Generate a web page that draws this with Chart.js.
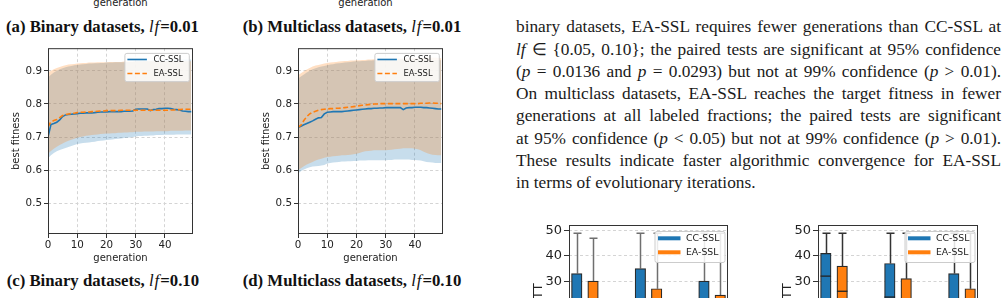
<!DOCTYPE html>
<html>
<head>
<meta charset="utf-8">
<script src="https://cdn.jsdelivr.net/npm/chart.js@4.4.1/dist/chart.umd.min.js"></script>
<style>
html, body { margin: 0; padding: 0; background: #fff; }
body { width: 1005px; height: 298px; overflow: hidden; position: relative; }
canvas { position: absolute; }
.cap { position: absolute; font-family: "Liberation Serif", serif; font-weight: bold; white-space: nowrap; color: #111; }
.cap i { font-weight: normal; letter-spacing: 1px; }
.axlab { position: absolute; font-family: "DejaVu Sans", sans-serif; font-size: 10px; line-height: 10px; color: #222; transform: translateX(-50%); white-space: nowrap; }
.para { position: absolute; left: 516px; top: 16.3px; width: 485px; font-family: "Liberation Serif", serif; font-size: 17.3px; line-height: 22.28px; color: #1a1a1a; }
.para div { white-space: nowrap; }
.para span { display: inline-block; }
</style>
</head>
<body>

<div class="axlab" style="left:120.5px; top:-1.8px">generation</div>
<div class="axlab" style="left:365.5px; top:-1.8px">generation</div>

<div class="cap" style="left:6px" data-w="193" data-base="33.3">(a) Binary datasets, <i>lf</i>=0.01</div>
<div class="cap" style="left:242.7px" data-w="218.3" data-base="33.3">(b) Multiclass datasets, <i>lf</i>=0.01</div>
<div class="cap" style="left:6.7px" data-w="192.3" data-base="287.3">(c) Binary datasets, <i>lf</i>=0.10</div>
<div class="cap" style="left:242.7px" data-w="218.3" data-base="287.3">(d) Multiclass datasets, <i>lf</i>=0.10</div>

<canvas id="chartA" width="200" height="228" style="left:0px; top:40px"></canvas>
<canvas id="chartB" width="200" height="228" style="left:250px; top:40px"></canvas>

<div class="para">
  <div><span>binary datasets, EA-SSL requires fewer generations than CC-SSL at</span></div>
  <div><span><i>lf</i> ∈ {0.05, 0.10}; the paired tests are significant at 95% confidence</span></div>
  <div><span>(<i>p</i> = 0.0136 and <i>p</i> = 0.0293) but not at 99% confidence (<i>p</i> &gt; 0.01).</span></div>
  <div><span>On multiclass datasets, EA-SSL reaches the target fitness in fewer</span></div>
  <div><span>generations at all labeled fractions; the paired tests are significant</span></div>
  <div><span>at 95% confidence (<i>p</i> &lt; 0.05) but not at 99% confidence (<i>p</i> &gt; 0.01).</span></div>
  <div><span>These results indicate faster algorithmic convergence for EA-SSL</span></div>
  <div class="last"><span>in terms of evolutionary iterations.</span></div>
</div>

<canvas id="boxLeft" width="205" height="182" style="left:530px; top:215px"></canvas>
<canvas id="boxRight" width="206" height="182" style="left:779px; top:215px"></canvas>

<script>
// ---- data: best fitness per generation ----
const generations = [0,1,2,3,4,5,6,7,8,9,10,11,12,13,14,15,16,17,18,19,20,21,22,23,24,25,26,27,28,29,30,31,32,33,34,35,36,37,38,39,40,41,42,43,44,45,46,47,48,49];
const generationTicks = [0, 10, 20, 30, 40];
const fitnessTicks = [0.5, 0.6, 0.7, 0.8, 0.9];

// (a) binary, lf = 0.01
const ccMeanBinary = [0.700,0.738,0.741,0.745,0.752,0.762,0.767,0.768,0.769,0.770,0.771,0.772,0.772,0.773,0.773,0.773,0.774,0.775,0.776,0.776,0.776,0.777,0.777,0.777,0.777,0.777,0.778,0.778,0.778,0.779,0.784,0.785,0.785,0.785,0.785,0.780,0.783,0.784,0.786,0.786,0.787,0.787,0.786,0.784,0.783,0.782,0.779,0.778,0.777,0.777];
const ccLowBinary  = [0.636,0.645,0.652,0.657,0.661,0.664,0.667,0.670,0.673,0.676,0.679,0.681,0.682,0.683,0.684,0.685,0.686,0.688,0.689,0.690,0.691,0.692,0.693,0.694,0.695,0.696,0.697,0.698,0.699,0.700,0.702,0.703,0.703,0.704,0.704,0.705,0.705,0.706,0.706,0.706,0.707,0.707,0.707,0.707,0.708,0.708,0.708,0.708,0.708,0.708];
const ccHighBinary = [0.880,0.888,0.895,0.900,0.905,0.908,0.911,0.913,0.915,0.917,0.918,0.919,0.920,0.921,0.922,0.922,0.923,0.923,0.924,0.924,0.925,0.925,0.925,0.926,0.926,0.926,0.926,0.927,0.927,0.927,0.930,0.931,0.931,0.931,0.931,0.930,0.931,0.932,0.933,0.933,0.934,0.934,0.934,0.934,0.934,0.934,0.934,0.934,0.934,0.934];
const eaMeanBinary = [0.731,0.746,0.750,0.753,0.759,0.765,0.768,0.770,0.771,0.772,0.774,0.775,0.775,0.776,0.776,0.777,0.777,0.778,0.779,0.779,0.780,0.780,0.780,0.780,0.780,0.781,0.781,0.781,0.781,0.781,0.781,0.781,0.781,0.781,0.781,0.781,0.781,0.781,0.781,0.781,0.781,0.781,0.782,0.782,0.783,0.783,0.784,0.784,0.784,0.784];
const eaLowBinary  = [0.650,0.658,0.665,0.671,0.676,0.681,0.685,0.689,0.692,0.695,0.698,0.700,0.702,0.704,0.705,0.706,0.707,0.708,0.709,0.710,0.711,0.711,0.712,0.712,0.713,0.713,0.714,0.714,0.715,0.715,0.716,0.716,0.716,0.717,0.717,0.717,0.717,0.718,0.718,0.718,0.718,0.718,0.719,0.719,0.719,0.719,0.719,0.720,0.720,0.720];
const eaHighBinary = [0.895,0.900,0.905,0.909,0.912,0.915,0.917,0.919,0.920,0.921,0.922,0.923,0.924,0.924,0.925,0.925,0.925,0.926,0.926,0.926,0.926,0.927,0.927,0.927,0.927,0.927,0.928,0.928,0.928,0.928,0.928,0.928,0.928,0.929,0.929,0.929,0.929,0.929,0.929,0.929,0.929,0.929,0.929,0.929,0.929,0.929,0.929,0.929,0.929,0.929];

// (b) multiclass, lf = 0.01
const ccMeanMulti = [0.729,0.733,0.737,0.741,0.745,0.749,0.754,0.758,0.759,0.770,0.775,0.776,0.777,0.777,0.777,0.777,0.778,0.779,0.780,0.781,0.782,0.783,0.784,0.785,0.786,0.786,0.787,0.787,0.788,0.788,0.789,0.789,0.789,0.789,0.789,0.789,0.783,0.788,0.789,0.789,0.790,0.790,0.790,0.789,0.789,0.788,0.787,0.786,0.785,0.785];
const ccLowMulti  = [0.590,0.597,0.602,0.606,0.609,0.611,0.612,0.613,0.614,0.616,0.620,0.622,0.623,0.624,0.625,0.626,0.626,0.627,0.627,0.628,0.628,0.629,0.629,0.629,0.630,0.630,0.630,0.630,0.630,0.630,0.630,0.631,0.631,0.632,0.632,0.632,0.632,0.632,0.632,0.631,0.631,0.630,0.629,0.627,0.625,0.624,0.623,0.622,0.622,0.622];
const ccHighMulti = [0.877,0.883,0.889,0.895,0.900,0.905,0.908,0.911,0.913,0.915,0.917,0.919,0.920,0.922,0.923,0.924,0.925,0.926,0.927,0.928,0.929,0.929,0.930,0.930,0.931,0.931,0.932,0.932,0.933,0.933,0.934,0.934,0.934,0.935,0.935,0.935,0.935,0.935,0.935,0.935,0.935,0.935,0.935,0.934,0.934,0.934,0.933,0.933,0.933,0.932];
const eaMeanMulti = [0.729,0.736,0.750,0.762,0.770,0.775,0.778,0.781,0.783,0.784,0.785,0.786,0.786,0.787,0.787,0.788,0.789,0.790,0.791,0.792,0.793,0.795,0.796,0.797,0.798,0.799,0.800,0.800,0.801,0.801,0.801,0.801,0.801,0.801,0.801,0.801,0.801,0.801,0.801,0.801,0.801,0.801,0.802,0.802,0.802,0.803,0.803,0.802,0.802,0.801];
const eaLowMulti  = [0.600,0.606,0.612,0.617,0.621,0.625,0.629,0.632,0.635,0.638,0.640,0.641,0.642,0.643,0.644,0.645,0.645,0.646,0.647,0.648,0.650,0.652,0.655,0.657,0.658,0.659,0.660,0.660,0.660,0.660,0.660,0.661,0.662,0.663,0.664,0.665,0.666,0.666,0.666,0.666,0.665,0.663,0.660,0.656,0.652,0.649,0.647,0.646,0.645,0.645];
const eaHighMulti = [0.887,0.893,0.899,0.904,0.909,0.913,0.916,0.918,0.920,0.922,0.924,0.925,0.926,0.927,0.928,0.929,0.930,0.930,0.931,0.931,0.932,0.932,0.933,0.933,0.934,0.934,0.935,0.935,0.935,0.936,0.936,0.936,0.936,0.937,0.937,0.937,0.937,0.937,0.937,0.938,0.938,0.938,0.939,0.939,0.940,0.940,0.940,0.940,0.939,0.938];

// ---- data: generations-to-target box plots (only the top is visible) ----
const fractions = ['0.01', '0.05', '0.10'];
const gttTicks = [0, 10, 20, 30, 40, 50];

const ccQ1Left  = [10, 12, 8];
const ccMedLeft = [20, 22, 17];
const ccQ3Left  = [33, 35, 30];
const ccMinLeft = [0, 0, 0];
const ccMaxLeft = [49, 49, 49];
const eaQ1Left  = [7, 6, 5];
const eaMedLeft = [15, 13, 11];
const eaQ3Left  = [30, 27, 24.5];
const eaMinLeft = [0, 0, 0];
const eaMaxLeft = [47, 49, 49];

const ccQ1Right  = [20, 12, 10];
const ccMedRight = [32, 23.7, 19];
const ccQ3Right  = [41, 37, 33];
const ccMinRight = [0, 0, 0];
const ccMaxRight = [49, 49, 49];
const eaQ1Right  = [12, 8, 6];
const eaMedRight = [26, 17, 14];
const eaQ3Right  = [36, 31, 27];
const eaMinRight = [0, 0, 0];
const eaMaxRight = [49, 49, 49];

const BLUE = '#1f77b4';
const ORANGE = '#ff7f0e';
const GRID = '#d4d4d4';
const BOX_SHIFT = 0.128;

Chart.defaults.font.family = 'DejaVu Sans';
Chart.defaults.color = '#222';

// matplotlib-like full frame around the plot area
const frame = {
  id: 'frame',
  afterDatasetsDraw(chart) {
    const {ctx, chartArea: a} = chart;
    ctx.save();
    ctx.strokeStyle = '#333';
    ctx.lineWidth = 1;
    ctx.strokeRect(a.left + 0.5, a.top + 0.5, a.right - a.left - 1, a.bottom - a.top - 1);
    ctx.restore();
  }
};

// legend box in the upper right corner of the plot area
const mplLegend = {
  id: 'mplLegend',
  afterDraw(chart, args, o) {
    const {ctx, chartArea: a} = chart;
    const x = a.right - o.right - o.w;
    const y = a.top + o.top;
    ctx.save();
    ctx.fillStyle = 'rgba(255,255,255,0.85)';
    ctx.strokeStyle = '#cccccc';
    ctx.lineWidth = 1;
    ctx.beginPath();
    ctx.roundRect(x + 0.5, y + 0.5, o.w, o.h, 2);
    ctx.fill();
    ctx.stroke();
    const items = chart.data.datasets.filter(d => d.label);
    items.forEach((d, i) => {
      const yy = y + o.rows[i];
      ctx.strokeStyle = d.swatch;
      ctx.lineWidth = o.lineWidth;
      ctx.setLineDash(d.borderDash && o.lineWidth < 3 ? d.borderDash : []);
      ctx.beginPath();
      ctx.moveTo(x + o.x0, yy);
      ctx.lineTo(x + o.x1, yy);
      ctx.stroke();
      ctx.setLineDash([]);
      ctx.fillStyle = '#222';
      ctx.font = o.fontSize + 'px "DejaVu Sans"';
      ctx.textBaseline = 'middle';
      ctx.fillText(d.label, x + o.tx, yy + 0.5);
    });
    ctx.restore();
  }
};

// whiskers, caps and medians for the box plots
const whiskers = {
  id: 'whiskers',
  beforeDatasetsDraw(chart, args, o) {
    const {ctx, chartArea: a} = chart;
    const y = chart.scales.y;
    ctx.save();
    ctx.beginPath();
    ctx.rect(a.left, a.top, a.right - a.left, a.bottom - a.top);
    ctx.clip();
    ctx.strokeStyle = o.color;
    ctx.lineWidth = o.width;
    chart.data.datasets.forEach((d, di) => {
      chart.getDatasetMeta(di).data.forEach((bar, i) => {
        const x = Math.round(bar.x) + 0.5;
        const pairs = [[d.data[i].y[1], d.maxes[i]], [d.data[i].y[0], d.mins[i]]];
        pairs.forEach(([from, to]) => {
          const p1 = y.getPixelForValue(from), p2 = y.getPixelForValue(to);
          ctx.beginPath();
          ctx.moveTo(x, p1); ctx.lineTo(x, p2);
          ctx.moveTo(x - o.cap, p2); ctx.lineTo(x + o.cap, p2);
          ctx.stroke();
        });
      });
    });
    ctx.restore();
  },
  afterDatasetsDraw(chart, args, o) {
    const {ctx} = chart;
    const y = chart.scales.y;
    ctx.save();
    ctx.strokeStyle = '#222';
    ctx.lineWidth = 1.3;
    chart.data.datasets.forEach((d, di) => {
      chart.getDatasetMeta(di).data.forEach((bar, i) => {
        const p = y.getPixelForValue(d.medians[i]);
        ctx.beginPath();
        ctx.moveTo(bar.x - bar.width / 2, p);
        ctx.lineTo(bar.x + bar.width / 2, p);
        ctx.stroke();
      });
    });
    ctx.restore();
  }
};

function fitnessChart(id, ccMean, ccLow, ccHigh, eaMean, eaLow, eaHigh) {
  const band = (data, fill, color, order) => ({
    data, fill, backgroundColor: color, borderWidth: 0, pointRadius: 0, pointHoverRadius: 0, order
  });
  return new Chart(document.getElementById(id), {
    type: 'line',
    data: {
      labels: generations,
      datasets: [
        band(ccLow, false, 'transparent', 6),
        band(ccHigh, '-1', 'rgba(31,119,180,0.25)', 5),
        band(eaLow, false, 'transparent', 4),
        band(eaHigh, '-1', 'rgba(255,127,14,0.25)', 3),
        { label: 'CC-SSL', data: ccMean, swatch: BLUE, borderColor: BLUE, borderWidth: 1.6, pointRadius: 0, fill: false, tension: 0, order: 2 },
        { label: 'EA-SSL', data: eaMean, swatch: ORANGE, borderColor: ORANGE, borderWidth: 1.6, borderDash: [5, 2.5], pointRadius: 0, fill: false, tension: 0, order: 1 }
      ]
    },
    options: {
      responsive: false,
      animation: false,
      devicePixelRatio: 1,
      layout: { padding: { top: 8, right: 7, left: 0, bottom: 0 } },
      plugins: {
        legend: { display: false },
        tooltip: { enabled: false },
        mplLegend: { right: 4.2, top: 4.7, w: 64.4, h: 28.3, x0: 3, x1: 22.5, tx: 29, rows: [6.6, 20.6], fontSize: 8.4, lineWidth: 1.6 }
      },
      scales: {
        x: {
          type: 'linear', min: 0, max: 49.6,
          afterFit: s => { s.height = 34; },
          afterBuildTicks: s => { s.ticks = generationTicks.map(v => ({ value: v })); },
          ticks: { font: { size: 10.3 }, padding: 1, maxRotation: 0, color: '#222' },
          grid: { color: GRID, borderDash: [3, 2.5], tickColor: '#333', tickLength: 4, tickBorderDash: [] },
          border: { display: false, dash: [3, 2.5] },
          title: { display: true, text: 'generation', font: { size: 10 }, color: '#222', padding: { top: 0, bottom: 4 } }
        },
        y: {
          min: 0.4074, max: 0.9685,
          afterFit: s => { s.width = 48; },
          afterBuildTicks: s => { s.ticks = fitnessTicks.map(v => ({ value: v })); },
          ticks: { font: { size: 10.3 }, padding: 2, color: '#222', callback: v => v.toFixed(1) },
          grid: { color: GRID, borderDash: [3, 2.5], tickColor: '#333', tickLength: 4, tickBorderDash: [] },
          border: { display: false, dash: [3, 2.5] },
          title: { display: true, text: 'best fitness', font: { size: 10 }, color: '#222', padding: { top: 10.5, bottom: 0 } }
        }
      }
    },
    plugins: [frame, mplLegend]
  });
}

function boxChart(id, cc, ea, whiskerColor) {
  const boxes = (label, s, color, shift) => ({
    label, swatch: color,
    data: s.q1.map((q, i) => ({ x: i + 1 + shift, y: [q, s.q3[i]] })),
    mins: s.min, maxes: s.max, medians: s.med,
    backgroundColor: color, borderColor: '#2a2a2a', borderWidth: 1.2, borderSkipped: false,
    barThickness: 10.5, grouped: false
  });
  return new Chart(document.getElementById(id), {
    type: 'bar',
    data: {
      datasets: [
        boxes('CC-SSL', cc, BLUE, -BOX_SHIFT),
        boxes('EA-SSL', ea, ORANGE, BOX_SHIFT)
      ]
    },
    options: {
      responsive: false,
      animation: false,
      devicePixelRatio: 1,
      layout: { padding: { top: 10, right: 7, left: 0, bottom: 0 } },
      plugins: {
        legend: { display: false },
        tooltip: { enabled: false },
        whiskers: { color: whiskerColor, width: 1.5, cap: 4 },
        mplLegend: { right: 3.5, top: 6, w: 70, h: 31, x0: 3.5, x1: 26, tx: 31.5, rows: [7.3, 21.3], fontSize: 9.3, lineWidth: 4 }
      },
      scales: {
        x: {
          type: 'linear', min: 0.75, max: 3.25, offset: false,
          afterFit: s => { s.height = 30; },
          afterBuildTicks: s => { s.ticks = fractions.map((f, i) => ({ value: i + 1 })); },
          ticks: { font: { size: 13 }, callback: v => fractions[v - 1] },
          grid: { display: false, offset: false },
          border: { display: false }
        },
        y: {
          min: -4, max: 52.25,
          afterFit: s => { s.width = 39; },
          afterBuildTicks: s => { s.ticks = gttTicks.map(v => ({ value: v })); },
          ticks: { font: { size: 13 }, padding: 2, color: '#222' },
          grid: { color: GRID, borderDash: [3, 2.5], tickColor: '#333', tickLength: 5, tickBorderDash: [] },
          border: { display: false, dash: [3, 2.5] },
          title: { display: true, text: 'GTT', font: { size: 13 }, color: '#222', padding: { top: 1, bottom: 0 } }
        }
      }
    },
    plugins: [whiskers, frame, mplLegend]
  });
}

fitnessChart('chartA', ccMeanBinary, ccLowBinary, ccHighBinary, eaMeanBinary, eaLowBinary, eaHighBinary);
fitnessChart('chartB', ccMeanMulti, ccLowMulti, ccHighMulti, eaMeanMulti, eaLowMulti, eaHighMulti);

boxChart('boxLeft',
  { q1: ccQ1Left, med: ccMedLeft, q3: ccQ3Left, min: ccMinLeft, max: ccMaxLeft },
  { q1: eaQ1Left, med: eaMedLeft, q3: eaQ3Left, min: eaMinLeft, max: eaMaxLeft }, '#6f6f6f');
boxChart('boxRight',
  { q1: ccQ1Right, med: ccMedRight, q3: ccQ3Right, min: ccMinRight, max: ccMaxRight },
  { q1: eaQ1Right, med: eaMedRight, q3: eaQ3Right, min: eaMinRight, max: eaMaxRight }, '#333');

// captions: size each one to the width it has in the page
document.querySelectorAll('.cap').forEach(el => {
  el.style.fontSize = '15.5px';
  const fs = 15.5 * (+el.dataset.w) / el.offsetWidth;
  el.style.fontSize = fs + 'px';
  el.style.lineHeight = fs + 'px';
  el.style.top = (+el.dataset.base - 0.8375 * fs) + 'px';
});

// justify the paragraph lines by spreading the word gaps
document.querySelectorAll('.para div:not(.last) span').forEach(span => {
  const gaps = (span.textContent.match(/ /g) || []).length;
  const spare = 485 - span.getBoundingClientRect().width;
  span.style.wordSpacing = (spare / gaps) + 'px';
});
</script>
</body>
</html>
